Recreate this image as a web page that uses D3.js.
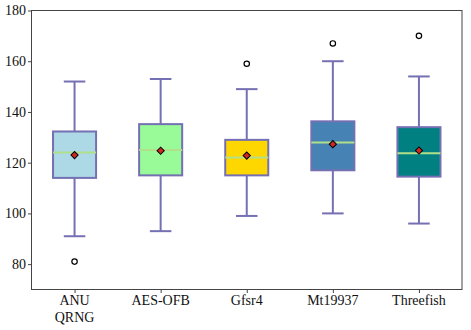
<!DOCTYPE html>
<html><head><meta charset="utf-8">
<script src="https://cdn.jsdelivr.net/npm/d3@7"></script>
<style>body{margin:0;background:#fff}svg{display:block}
text{font-family:"Liberation Serif","Times New Roman","DejaVu Serif",serif;}</style>
</head><body>
<script>
const categories = ["ANU\nQRNG","AES-OFB","Gfsr4","Mt19937","Threefish"];
const whiskerLow  = [91, 93, 99, 100, 96];
const q1          = [114, 115, 115, 117, 114.5];
const medians     = [124, 125, 122, 128, 123.7];
const q3          = [132.3, 135.2, 129, 136.3, 134];
const whiskerHigh = [152, 153, 149, 160, 154];
const means       = [123, 124.7, 122.8, 127.3, 124.8];
const outliers    = [[81], [], [159], [167], [170]];
const fills       = ["#add8e6","#98fb98","#ffd700","#4682b4","#008080"];
const yTicks      = [80,100,120,140,160,180];

const W=471,H=330, m={l:31.5,r:9,t:10.5,b:40.5};
const svg=d3.select("body").append("svg").attr("width",W).attr("height",H);
const x=d3.scaleLinear().domain([0.5,5.5]).range([m.l,W-m.r]);
const y=d3.scaleLinear().domain([70,180]).range([H-m.b,m.t]);
const edge="#7570b3";

const ya=svg.append("g").attr("transform",`translate(${m.l},0)`)
  .call(d3.axisLeft(y).tickValues(yTicks).tickSize(3.5).tickPadding(2).tickFormat(d3.format("d")));
ya.attr("font-family",null);
ya.select(".domain").remove();
ya.selectAll("text").attr("font-size",14).attr("fill","#111");
ya.selectAll("line").attr("stroke","#444");

const xa=svg.append("g").attr("transform",`translate(0,${H-m.b})`)
  .call(d3.axisBottom(x).tickValues(d3.range(1,6)).tickSize(3.5).tickFormat(""));
xa.select(".domain").remove();
xa.selectAll("line").attr("stroke","#444");
categories.forEach((c,i)=>{
  const t=svg.append("text").attr("x",x(i+1)).attr("y",H-m.b+15.5)
    .attr("text-anchor","middle").attr("font-size",14).attr("fill","#111");
  c.split("\n").forEach((ln,j)=>t.append("tspan").attr("x",x(i+1)).attr("dy",j?16.5:0).text(ln));
});

const g=svg.append("g");
const bw=0.5, cw=0.25;
categories.forEach((c,i)=>{
  const p=i+1;
  g.append("line").attr("x1",x(p)).attr("x2",x(p)).attr("y1",y(q1[i])).attr("y2",y(whiskerLow[i])).attr("stroke",edge).attr("stroke-width",2);
  g.append("line").attr("x1",x(p)).attr("x2",x(p)).attr("y1",y(q3[i])).attr("y2",y(whiskerHigh[i])).attr("stroke",edge).attr("stroke-width",2);
  [whiskerLow[i],whiskerHigh[i]].forEach(v=>g.append("line").attr("x1",x(p-cw/2)).attr("x2",x(p+cw/2)).attr("y1",y(v)).attr("y2",y(v)).attr("stroke",edge).attr("stroke-width",2));
  g.append("rect").attr("x",x(p-bw/2)).attr("width",x(p+bw/2)-x(p-bw/2))
    .attr("y",y(q3[i])).attr("height",y(q1[i])-y(q3[i]))
    .attr("fill",fills[i]).attr("stroke",edge).attr("stroke-width",2);
  g.append("line").attr("x1",x(p-bw/2)).attr("x2",x(p+bw/2)).attr("y1",y(medians[i])).attr("y2",y(medians[i])).attr("stroke","#b2df8a").attr("stroke-width",2);
  g.append("path").attr("d",d3.symbol(d3.symbolSquare,26)())
    .attr("transform",`translate(${x(p)},${y(means[i])}) rotate(45)`)
    .attr("fill","#d0281e").attr("stroke","#000").attr("stroke-width",1);
  outliers[i].forEach(v=>g.append("circle").attr("cx",x(p)).attr("cy",y(v)).attr("r",2.7).attr("fill","none").attr("stroke","#000").attr("stroke-width",1.2));
});

svg.append("rect").attr("x",m.l).attr("y",m.t).attr("width",W-m.r-m.l).attr("height",H-m.b-m.t)
  .attr("fill","none").attr("stroke","#444").attr("stroke-width",1);
</script>
</body></html>
